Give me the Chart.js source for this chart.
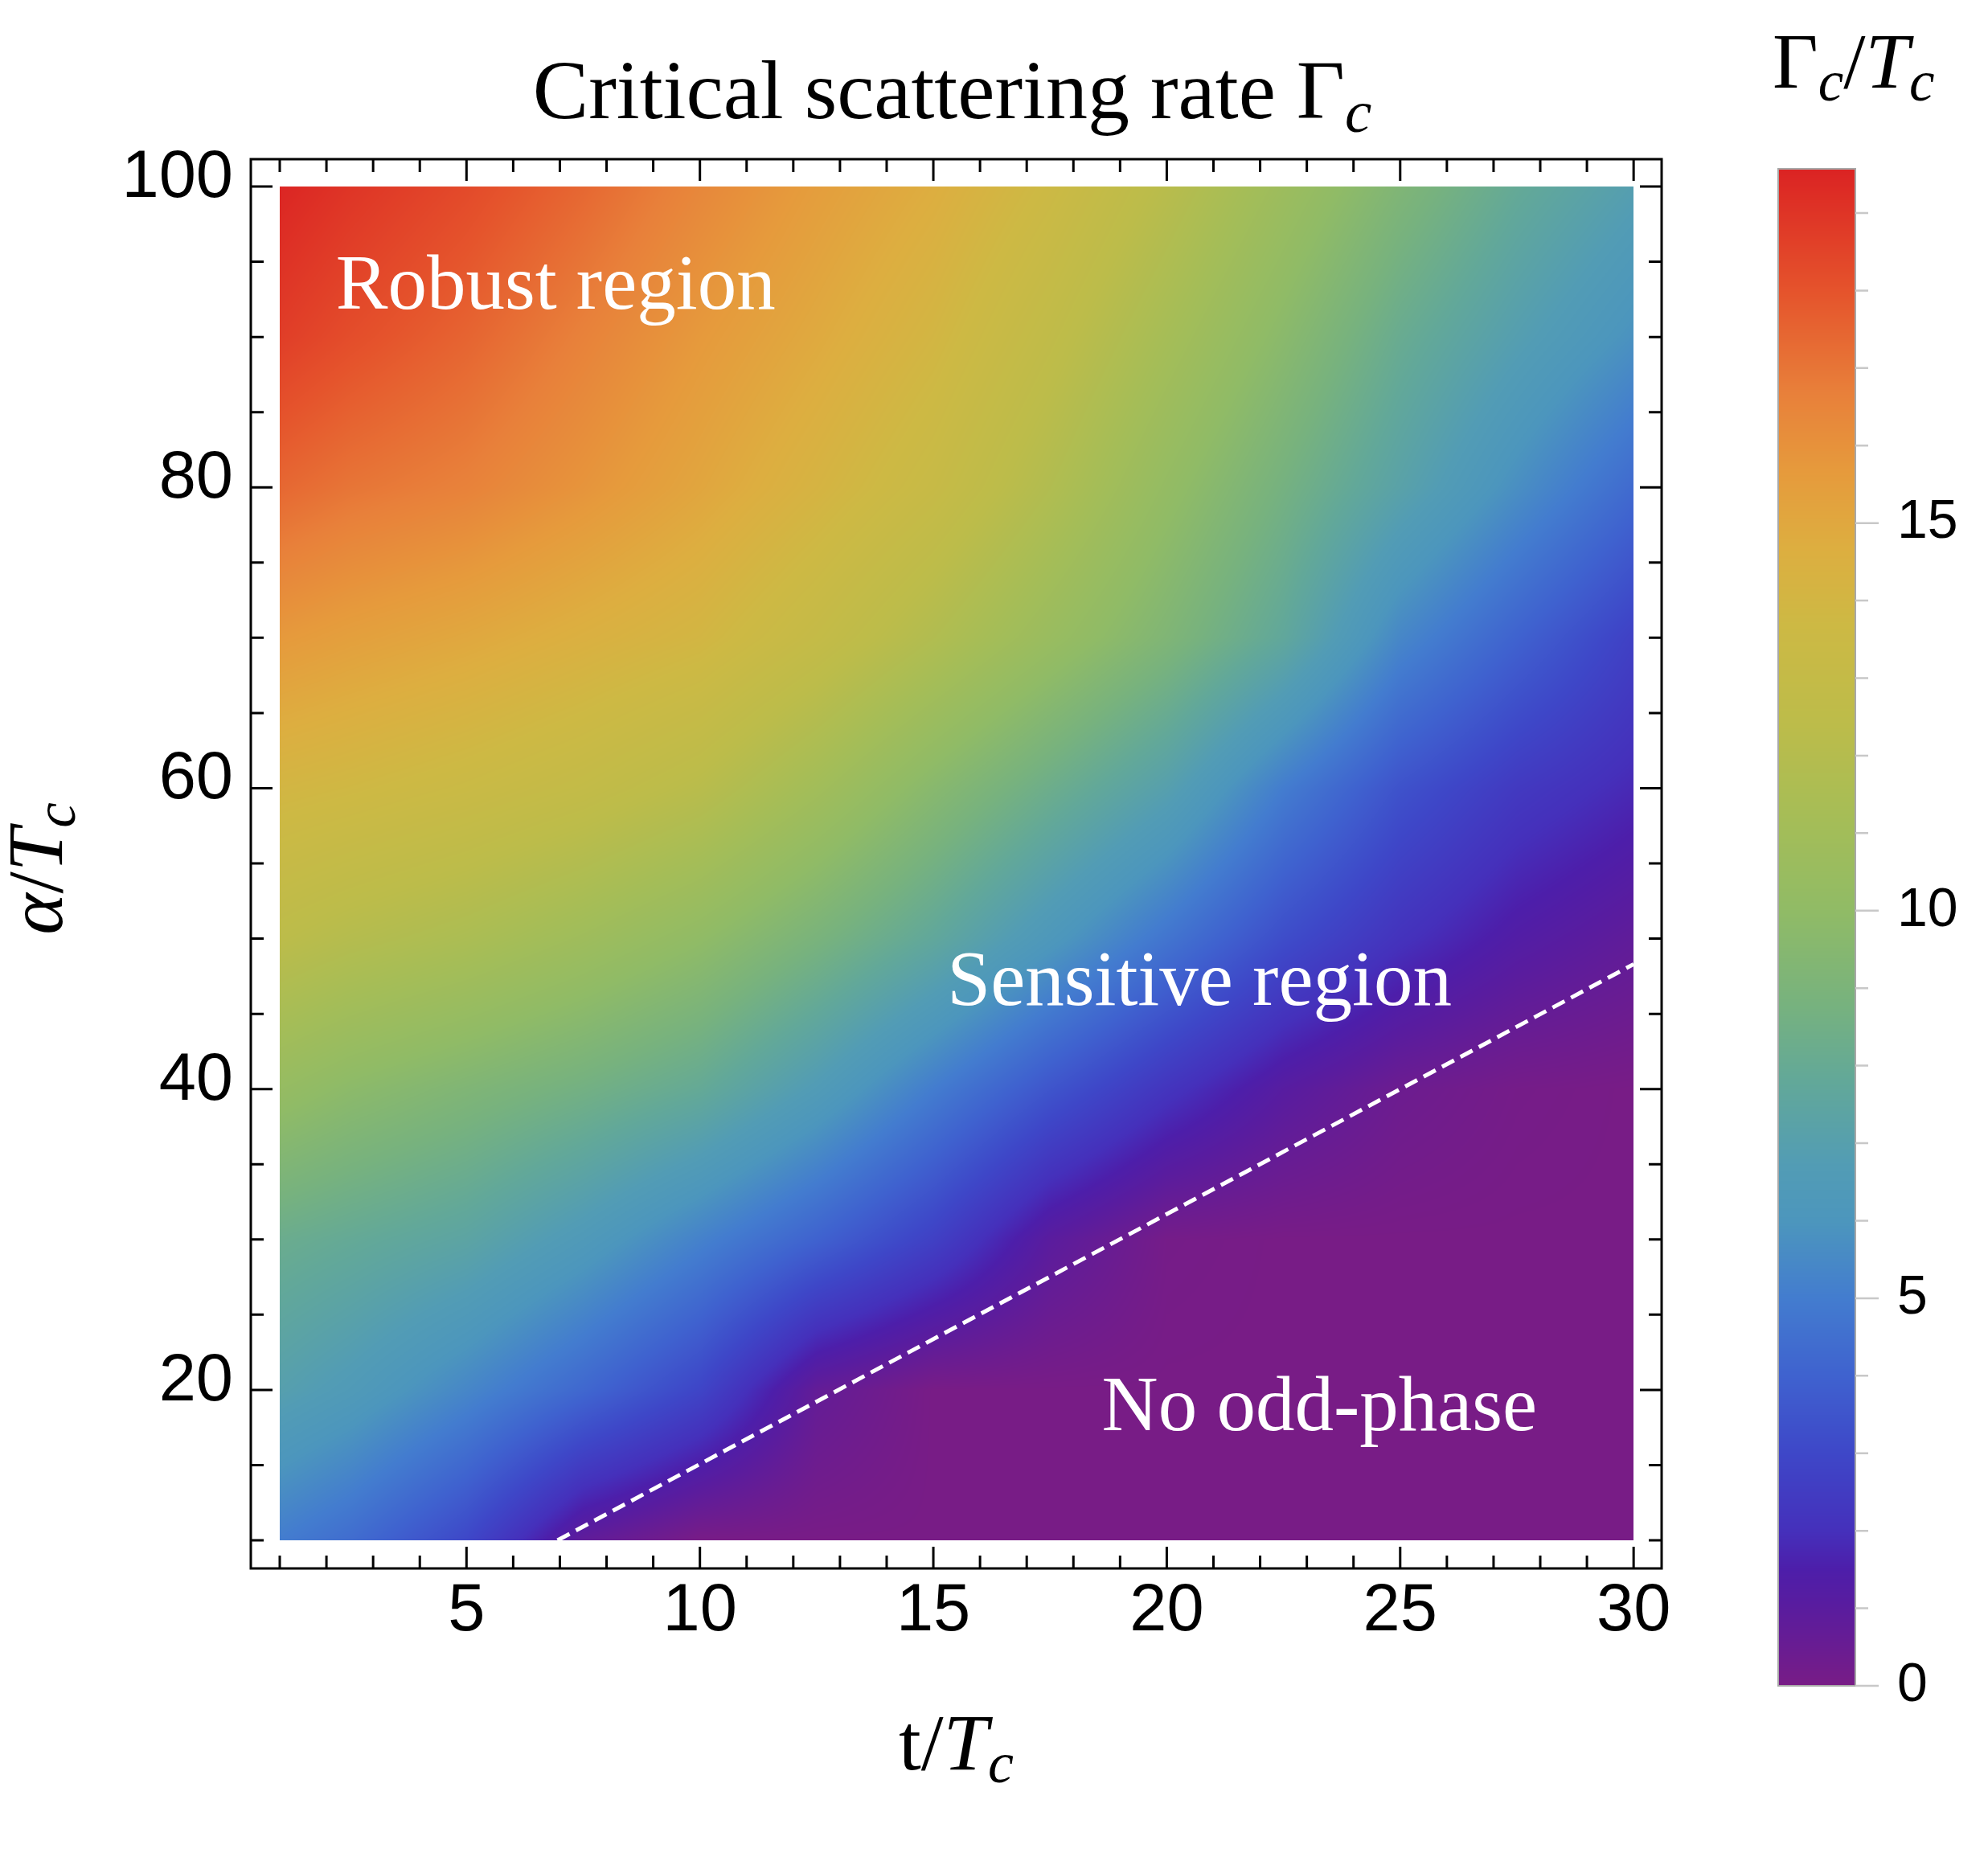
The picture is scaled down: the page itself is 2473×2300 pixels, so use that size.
<!DOCTYPE html>
<html>
<head>
<meta charset="utf-8">
<script src="https://cdn.jsdelivr.net/npm/chart.js@4.4.1/dist/chart.umd.min.js"></script>
<style>
  html, body { margin: 0; padding: 0; background: #fff; }
  #wrap { position: relative; width: 2473px; height: 2300px; }
  #main { position: absolute; left: 0; top: 0; }
  #cbar { position: absolute; left: 2150px; top: 0; }
</style>
</head>
<body>
<div id="wrap">
  <canvas id="main" width="2473" height="2300"></canvas>
  <canvas id="cbar" width="323" height="2300"></canvas>
</div>
<script>
// Valores: columnas t/Tc, filas alpha/Tc, Gamma_c/Tc
const tValues = [1, 2.5, 5, 7.5, 10, 12.5, 15, 17.5, 20, 22.5, 25, 27.5, 30];
const alphaValues = [10, 20, 30, 40, 50, 60, 70, 80, 90, 100];
const gammaRows = [
  [5.0, 4.4, 3.0, 0.8, 0.0, 0.0, 0.0, 0.0, 0.0, 0.0, 0.0, 0.0, 0.0],
  [7.0, 6.5, 5.4, 4.2, 2.9, 0.7, 0.0, 0.0, 0.0, 0.0, 0.0, 0.0, 0.0],
  [8.2, 7.9, 7.4, 6.4, 5.2, 4.0, 2.7, 1.0, 0.1, 0.0, 0.0, 0.0, 0.0],
  [10.3, 9.8, 9.2, 8.6, 7.9, 6.6, 5.0, 3.5, 2.2, 1.1, 0.4, 0.1, 0.0],
  [12.4, 12.0, 11.5, 10.8, 10.0, 8.9, 7.7, 6.2, 4.7, 3.2, 2.1, 1.3, 0.8],
  [14.0, 13.8, 13.4, 12.9, 12.2, 11.0, 9.6, 8.3, 7.0, 5.0, 3.4, 2.4, 1.8],
  [15.7, 15.4, 15.0, 14.5, 14.0, 13.0, 11.8, 10.5, 9.2, 7.7, 5.4, 4.0, 2.7],
  [17.4, 17.0, 16.6, 15.9, 15.1, 14.2, 13.2, 11.8, 10.2, 8.7, 7.2, 5.7, 4.3],
  [18.7, 18.2, 17.5, 16.6, 15.7, 14.9, 14.0, 12.7, 11.2, 9.7, 8.1, 6.9, 5.8],
  [19.5, 19.0, 18.3, 17.4, 16.4, 15.5, 14.7, 13.6, 12.2, 10.7, 9.2, 7.9, 6.9]
];

// linea discontinua (frontera de la fase impar)
const boundaryT = [6.95, 30];
const boundaryAlpha = [10, 48.3];

// ticks
const xTicks = [5, 10, 15, 20, 25, 30];
const yTicks = [20, 40, 60, 80, 100];
const cbarTicks = [0, 5, 10, 15];
const cbarMax = 19.57;

// etiquetas dentro del mapa
const notes = [
  { text: 'Robust region', t: 2.2, a: 91.9, align: 'left' },
  { text: 'Sensitive region', t: 20.7, a: 45.6, align: 'center' },
  { text: 'No odd-phase', t: 23.27, a: 17.3, align: 'center' }
];

// paleta tipo "Rainbow"
const cmapStops = [
  [0.000, 120, 28, 134], [0.051, 90, 28, 158], [0.077, 77, 30, 170],
  [0.102, 69, 48, 187], [0.153, 62, 71, 200], [0.204, 63, 98, 207],
  [0.255, 67, 124, 207], [0.306, 76, 150, 189], [0.342, 82, 156, 181],
  [0.398, 98, 168, 153], [0.449, 119, 178, 126], [0.510, 144, 187, 102],
  [0.571, 165, 189, 87], [0.633, 188, 188, 74], [0.699, 205, 185, 68],
  [0.750, 221, 174, 64], [0.801, 230, 154, 60], [0.852, 232, 128, 58],
  [0.918, 229, 84, 44], [1.000, 219, 35, 35]
];

function cmap(f) {
  f = Math.max(0, Math.min(1, f));
  for (let k = 1; k < cmapStops.length; k++) {
    const b = cmapStops[k];
    if (f <= b[0]) {
      const a = cmapStops[k - 1];
      const u = (f - a[0]) / (b[0] - a[0]);
      return [a[1] + (b[1] - a[1]) * u, a[2] + (b[2] - a[2]) * u, a[3] + (b[3] - a[3]) * u];
    }
  }
  const l = cmapStops[cmapStops.length - 1];
  return [l[1], l[2], l[3]];
}

function locate(arr, v) {
  if (v <= arr[0]) return [0, 0];
  for (let i = 0; i < arr.length - 1; i++) {
    if (v <= arr[i + 1]) return [i, (v - arr[i]) / (arr[i + 1] - arr[i])];
  }
  return [arr.length - 2, 1];
}

function fontFor(style, size) {
  const sz = style === 's' ? size * 0.72 : size;
  return (style === 'r' ? '' : 'italic ') + Math.round(sz) + 'px "Liberation Serif"';
}

function drawRich(ctx, parts, x, y, size, align) {
  let w = 0;
  parts.forEach(p => { ctx.font = fontFor(p[1], size); w += ctx.measureText(p[0]).width; });
  let cx = align === 'center' ? x - w / 2 : x;
  ctx.textAlign = 'left';
  ctx.textBaseline = 'alphabetic';
  parts.forEach(p => {
    ctx.font = fontFor(p[1], size);
    const dy = p[1] === 's' ? size * 0.16 : 0;
    ctx.fillText(p[0], cx, y + dy);
    cx += ctx.measureText(p[0]).width;
  });
}

// mapa de densidad dibujado con las escalas del grafico
const heatPlugin = {
  id: 'heat',
  beforeDatasetsDraw(chart) {
    const xs = chart.scales.x, ys = chart.scales.y, ctx = chart.ctx;
    const px0 = Math.round(xs.getPixelForValue(tValues[0]));
    const px1 = Math.round(xs.getPixelForValue(tValues[tValues.length - 1]));
    const py0 = Math.round(ys.getPixelForValue(alphaValues[alphaValues.length - 1]));
    const py1 = Math.round(ys.getPixelForValue(alphaValues[0]));
    const w = px1 - px0, h = py1 - py0;
    const off = document.createElement('canvas');
    off.width = w; off.height = h;
    const octx = off.getContext('2d');
    const img = octx.createImageData(w, h);
    const cols = [];
    for (let i = 0; i < w; i++) cols.push(locate(tValues, xs.getValueForPixel(px0 + i + 0.5)));
    for (let j = 0; j < h; j++) {
      const [r, fy] = locate(alphaValues, ys.getValueForPixel(py0 + j + 0.5));
      const lo = gammaRows[r], hi = gammaRows[r + 1];
      for (let i = 0; i < w; i++) {
        const [c, fx] = cols[i];
        const v0 = lo[c] + (lo[c + 1] - lo[c]) * fx;
        const v1 = hi[c] + (hi[c + 1] - hi[c]) * fx;
        const col = cmap((v0 + (v1 - v0) * fy) / cbarMax);
        const k = (j * w + i) * 4;
        img.data[k] = col[0]; img.data[k + 1] = col[1]; img.data[k + 2] = col[2]; img.data[k + 3] = 255;
      }
    }
    octx.putImageData(img, 0, 0);
    ctx.drawImage(off, px0, py0);
  },
  afterDatasetsDraw(chart) {
    const xs = chart.scales.x, ys = chart.scales.y, ctx = chart.ctx;
    ctx.save();
    ctx.fillStyle = '#fff';
    ctx.font = '97px "Liberation Serif"';
    ctx.textBaseline = 'alphabetic';
    notes.forEach(n => {
      ctx.textAlign = n.align;
      ctx.fillText(n.text, xs.getPixelForValue(n.t), ys.getPixelForValue(n.a));
    });
    ctx.restore();
  }
};

// marco con ticks hacia dentro y titulos
const framePlugin = {
  id: 'frame',
  afterDraw(chart) {
    const { ctx, chartArea: ca } = chart;
    const xs = chart.scales.x, ys = chart.scales.y;
    ctx.save();
    ctx.strokeStyle = '#000';
    ctx.lineWidth = 3;
    ctx.strokeRect(ca.left, ca.top, ca.right - ca.left, ca.bottom - ca.top);
    ctx.beginPath();
    for (let t = 1; t <= 30; t++) {
      const len = t % 5 === 0 ? 27 : 16;
      const p = xs.getPixelForValue(t);
      ctx.moveTo(p, ca.bottom); ctx.lineTo(p, ca.bottom - len);
      ctx.moveTo(p, ca.top); ctx.lineTo(p, ca.top + len);
    }
    for (let a = 10; a <= 100; a += 5) {
      const len = a % 20 === 0 ? 27 : 16;
      const p = ys.getPixelForValue(a);
      ctx.moveTo(ca.left, p); ctx.lineTo(ca.left + len, p);
      ctx.moveTo(ca.right, p); ctx.lineTo(ca.right - len, p);
    }
    ctx.stroke();

    ctx.fillStyle = '#000';
    const cx = (ca.left + ca.right) / 2, cy = (ca.top + ca.bottom) / 2;
    drawRich(ctx, [['Critical scattering rate ', 'r'], ['\u0393', 'r'], ['c', 's']], cx - 5, 147, 104, 'center');
    drawRich(ctx, [['t', 'r'], ['/', 'r'], ['T', 'i'], ['c', 's']], cx, 2201, 100, 'center');
    ctx.translate(77, cy + 6);
    ctx.rotate(-Math.PI / 2);
    drawRich(ctx, [['\u03b1', 'i'], ['/', 'r'], ['T', 'i'], ['c', 's']], 0, 0, 98, 'center');
    ctx.restore();
  }
};

const heatPoints = [];
alphaValues.forEach((a, j) => tValues.forEach((t, i) => heatPoints.push({ x: t, y: a, v: gammaRows[j][i] })));

const tickFont = { family: 'Liberation Sans', size: 83 };

new Chart(document.getElementById('main'), {
  type: 'scatter',
  data: {
    datasets: [
      { label: 'heat', data: heatPoints, pointRadius: 0, pointHoverRadius: 0 },
      {
        label: 'boundary', type: 'line',
        data: boundaryT.map((t, i) => ({ x: t, y: boundaryAlpha[i] })),
        borderColor: '#fff', borderWidth: 5, borderDash: [17, 9],
        pointRadius: 0, fill: false, tension: 0
      }
    ]
  },
  options: {
    responsive: false, animation: false, devicePixelRatio: 1,
    layout: { padding: { left: 0, top: 198, right: 406, bottom: 0 } },
    plugins: { legend: { display: false }, tooltip: { enabled: false } },
    scales: {
      x: {
        type: 'linear', min: 0.38, max: 30.6,
        grid: { display: false, drawTicks: false }, border: { display: false },
        afterBuildTicks: s => { s.ticks = xTicks.map(v => ({ value: v })); },
        afterFit: s => { s.height = 349; },
        ticks: { padding: 4, font: tickFont, color: '#000', maxRotation: 0, autoSkip: false }
      },
      y: {
        type: 'linear', min: 8.13, max: 101.82,
        grid: { display: false, drawTicks: false }, border: { display: false },
        afterBuildTicks: s => { s.ticks = yTicks.map(v => ({ value: v })); },
        afterFit: s => { s.width = 312; },
        ticks: { padding: 22, labelOffset: -10, font: tickFont, color: '#000', autoSkip: false }
      }
    }
  },
  plugins: [heatPlugin, framePlugin]
});

// barra de color
const cbarPlugin = {
  id: 'cbar',
  afterDraw(chart) {
    const { ctx, chartArea: ca } = chart;
    const ys = chart.scales.y;
    ctx.save();
    for (let y = Math.floor(ca.top); y < ca.bottom; y++) {
      const c = cmap(ys.getValueForPixel(y + 0.5) / cbarMax);
      ctx.fillStyle = 'rgb(' + c.map(Math.round).join(',') + ')';
      ctx.fillRect(ca.left, y, ca.right - ca.left, 1);
    }
    ctx.strokeStyle = '#a8a8a8';
    ctx.lineWidth = 2;
    ctx.strokeRect(ca.left, ca.top, ca.right - ca.left, ca.bottom - ca.top);
    ctx.strokeStyle = '#c8c8c8';
    ctx.lineWidth = 2.5;
    ctx.beginPath();
    for (let v = 0; v < cbarMax; v++) {
      const p = ys.getPixelForValue(v);
      ctx.moveTo(ca.right, p); ctx.lineTo(ca.right + (v % 5 === 0 ? 29 : 16), p);
    }
    ctx.stroke();
    ctx.fillStyle = '#000';
    drawRich(ctx, [['\u0393', 'r'], ['c', 's'], ['/', 'r'], ['T', 'i'], ['c', 's']], 55, 109, 98, 'left');
    ctx.restore();
  }
};

new Chart(document.getElementById('cbar'), {
  type: 'scatter',
  data: { datasets: [] },
  options: {
    responsive: false, animation: false, devicePixelRatio: 1,
    layout: { padding: { left: 62, right: 0, top: 210, bottom: 203 } },
    plugins: { legend: { display: false }, tooltip: { enabled: false } },
    scales: {
      x: { display: false, min: 0, max: 1 },
      y: {
        position: 'right', min: 0, max: cbarMax,
        grid: { display: false, drawTicks: false }, border: { display: false },
        afterBuildTicks: s => { s.ticks = cbarTicks.map(v => ({ value: v })); },
        afterFit: s => { s.width = 165; },
        ticks: { padding: 52, font: { family: 'Liberation Sans', size: 68 }, color: '#000' }
      }
    }
  },
  plugins: [cbarPlugin]
});
</script>
</body>
</html>
